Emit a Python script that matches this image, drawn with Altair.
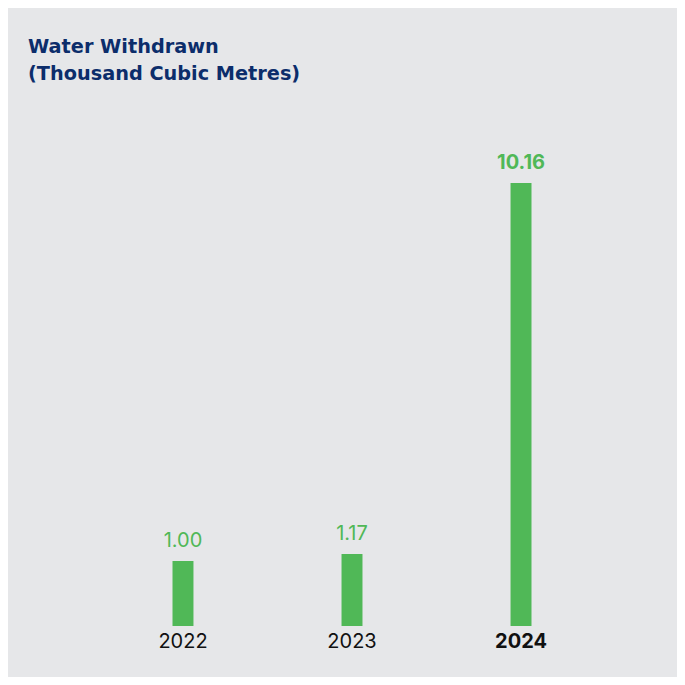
import altair as alt
import pandas as pd

years = ["2022", "2023", "2024"]
values = [1.00, 1.17, 10.16]
labels = ["1.00", "1.17", "10.16"]
BASE = -0.575  # axis baseline of the visual scale

df = pd.DataFrame({"year": years, "value": values, "label": labels})

GREEN = "#50b857"
NAVY = "#0c2d6b"
BG = "#e6e7e9"
FONT = "Inter"

x = alt.X(
    "year:N",
    sort=years,
    scale=alt.Scale(paddingInner=0.876, paddingOuter=0.855),
    axis=alt.Axis(
        title=None,
        domain=False,
        ticks=False,
        grid=False,
        labelAngle=0,
        labelFont=FONT,
        labelFontSize=20,
        labelColor="#111111",
        labelPadding=5,
        labelFontWeight={"condition": {"test": "datum.value == '2024'", "value": "bold"}, "value": "normal"},
    ),
)
y = alt.Y("value:Q", scale=alt.Scale(domain=[BASE, 10.16], nice=False, zero=False), axis=None)

bars = alt.Chart(df).mark_bar(color=GREEN).encode(x=x, y=y, y2=alt.datum(BASE))
text = alt.Chart(df).mark_text(
    font=FONT,
    fontSize=20,
    color=GREEN,
    baseline="alphabetic",
    dy=-14,
    fontWeight=alt.ExprRef("datum.year == '2024' ? 'bold' : 'normal'"),
).encode(x=x, y=y, text="label:N")

chart = (
    alt.layer(bars, text)
    .properties(
        width=648,
        height=443,
        autosize=alt.AutoSizeParams(type="none"),
        padding={"left": 20, "right": 1, "top": 175, "bottom": 51},
        background=BG,
        title=alt.TitleParams(
            text=["Water Withdrawn", "(Thousand Cubic Metres)"],
            anchor="start",
            frame="group",
            font="DejaVu Sans",
            fontSize=19.3,
            fontWeight="bold",
            color=NAVY,
            lineHeight=27,
            baseline="top",
            offset=69,
        ),
    )
    .configure_view(stroke=None)
)

chart.save("out.html", embed_options={"renderer": "svg", "actions": False})
